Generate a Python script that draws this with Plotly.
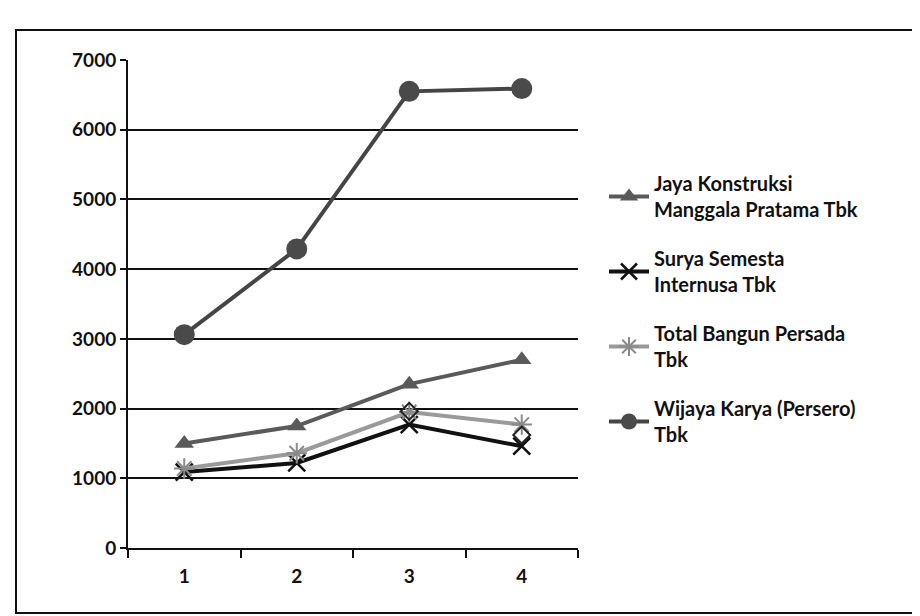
import plotly.graph_objects as go

categories = ["1", "2", "3", "4"]
jaya = [1500, 1750, 2350, 2700]
surya = [1090, 1220, 1770, 1460]
total = [1140, 1360, 1950, 1770]
wijaya = [3060, 4290, 6550, 6590]
extra = [None, None, 1960, 1620]
y_ticks = [0, 1000, 2000, 3000, 4000, 5000, 6000, 7000]

names = [
    "Jaya Konstruksi<br>Manggala Pratama Tbk",
    "Surya Semesta<br>Internusa Tbk",
    "Total Bangun Persada<br>Tbk",
    "Wijaya Karya (Persero)<br>Tbk",
]

fig = go.Figure()
fig.add_trace(go.Scatter(x=categories, y=jaya, name=names[0], mode="lines+markers",
                         line=dict(color="#5a5a5a", width=4),
                         marker=dict(symbol="triangle-up", size=17, color="#5a5a5a"),
                         legendgroup="a"))
fig.add_trace(go.Scatter(x=categories, y=surya, name=names[1], mode="lines+markers",
                         line=dict(color="#111111", width=4),
                         marker=dict(symbol="x-thin", size=17, color="#111111",
                                     line=dict(color="#111111", width=2.5)),
                         legendgroup="b"))
fig.add_trace(go.Scatter(x=categories, y=total, name=names[2], mode="lines+markers",
                         line=dict(color="#9a9a9a", width=4),
                         marker=dict(symbol="asterisk", size=17, color="#8a8a8a",
                                     line=dict(color="#8a8a8a", width=2)),
                         legendgroup="c"))
fig.add_trace(go.Scatter(x=categories, y=extra, name="", mode="markers", showlegend=False,
                         marker=dict(symbol="diamond-open", size=13, color="#222222",
                                     line=dict(width=2))))
fig.add_trace(go.Scatter(x=categories, y=wijaya, name=names[3], mode="lines+markers",
                         line=dict(color="#454545", width=4),
                         marker=dict(symbol="circle", size=21, color="#4a4a4a"),
                         legendgroup="d"))

L, R, T, B = 120, 350, 52, 76
W, H = 920, 616
pw, ph = W - L - R, H - T - B

def px(x):
    return (x - L) / pw

def py(y):
    return (H - B - y) / ph

bold = dict(family="Lato", size=19, color="#111111", weight="bold")

fig.update_layout(
    width=W, height=H,
    margin=dict(l=L, r=R, t=T, b=B),
    paper_bgcolor="white", plot_bgcolor="white",
    font=bold,
    legend=dict(x=px(596), y=py(156), xanchor="left", yanchor="top",
                font=dict(family="Lato", size=20, color="#111111", weight="bold"),
                tracegroupgap=20, itemwidth=40, bgcolor="rgba(0,0,0,0)"),
    xaxis=dict(type="category", range=[-0.5, 3.5], showgrid=False,
               showline=True, linecolor="#111111", linewidth=2,
               ticks="outside", tickson="boundaries", ticklen=8, tickwidth=2, tickcolor="#111111",
               tickfont=bold, ticklabelstandoff=10),
    yaxis=dict(range=[0, 7000], tickvals=y_ticks, showgrid=True, gridcolor="#111111", gridwidth=1.5,
               showline=True, linecolor="#111111", linewidth=2, zeroline=False,
               ticks="outside", ticklen=6, tickwidth=2, tickcolor="#111111",
               tickfont=bold),
    shapes=[dict(type="rect", xref="paper", yref="paper",
                 x0=px(8), x1=px(915), y0=py(605), y1=py(22),
                 line=dict(color="#111111", width=2), fillcolor="rgba(0,0,0,0)", layer="below")],
)

fig.write_html("out.html")
